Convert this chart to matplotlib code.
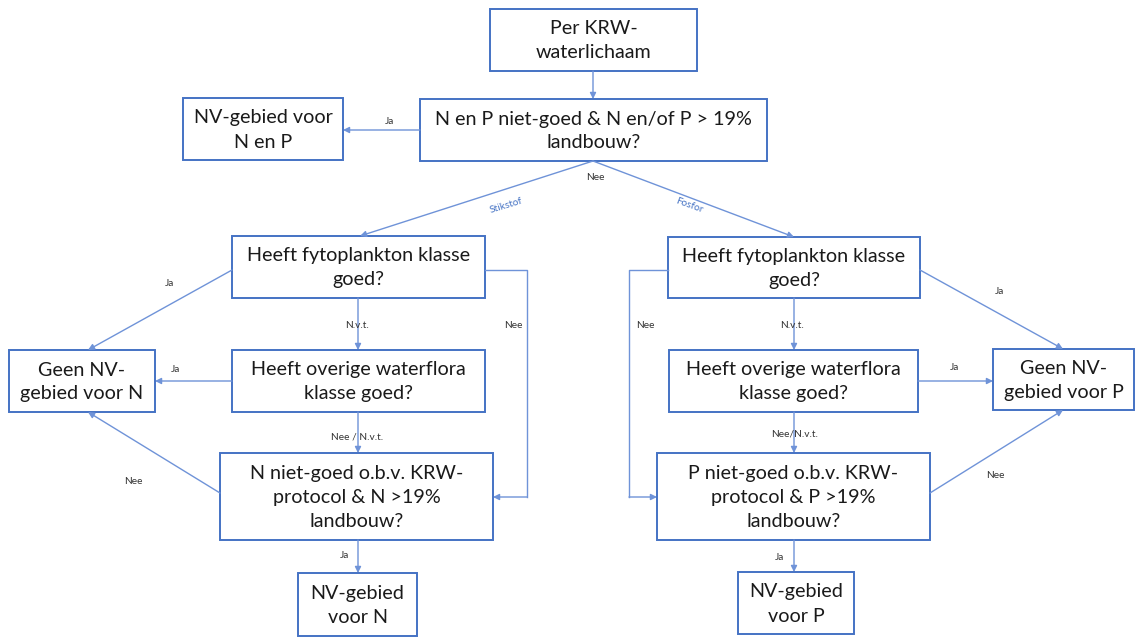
import matplotlib
matplotlib.use('Agg')
import matplotlib.pyplot as plt
from matplotlib.patches import Rectangle

# box texts
box_ids = ['start', 'q_np', 'nv_np', 'fyto_n', 'fyto_p', 'geen_n', 'flora_n',
           'krw_n', 'nv_n', 'geen_p', 'flora_p', 'krw_p', 'nv_p']
box_texts = ['Per KRW-\nwaterlichaam',
             'N en P niet-goed & N en/of P > 19%\nlandbouw?',
             'NV-gebied voor\nN en P',
             'Heeft fytoplankton klasse\ngoed?',
             'Heeft fytoplankton klasse\ngoed?',
             'Geen NV-\ngebied voor N',
             'Heeft overige waterflora\nklasse goed?',
             'N niet-goed o.b.v. KRW-\nprotocol & N >19%\nlandbouw?',
             'NV-gebied\nvoor N',
             'Geen NV-\ngebied voor P',
             'Heeft overige waterflora\nklasse goed?',
             'P niet-goed o.b.v. KRW-\nprotocol & P >19%\nlandbouw?',
             'NV-gebied\nvoor P']

# edge labels
edge_labels = ['Ja', 'Nee', 'Stikstof', 'Fosfor', 'Ja', 'N.v.t.', 'Nee', 'Ja',
               'Nee / N.v.t.', 'Nee', 'Ja', 'Ja', 'N.v.t.', 'Nee', 'Ja',
               'Nee/N.v.t.', 'Nee', 'Ja']

# layout in pixels: x0, y0, x1, y1 (y down)
layout = {
    'start': (490, 9, 697, 71),
    'q_np': (420, 99, 767, 161),
    'nv_np': (183, 98, 343, 160),
    'fyto_n': (232, 236, 485, 298),
    'fyto_p': (668, 237, 920, 298),
    'geen_n': (9, 350, 155, 412),
    'flora_n': (232, 350, 485, 412),
    'krw_n': (220, 453, 493, 540),
    'nv_n': (298, 573, 417, 636),
    'geen_p': (993, 349, 1134, 410),
    'flora_p': (669, 350, 918, 412),
    'krw_p': (657, 453, 930, 540),
    'nv_p': (738, 572, 854, 634),
}

# connectors: polyline points, arrow at the end
paths = [
    [(593, 71), (593, 99)],
    [(420, 130), (343, 130)],
    [(593, 161), (360, 236)],
    [(593, 161), (794, 237)],
    [(232, 270), (88, 350)],
    [(358, 298), (358, 350)],
    [(485, 270), (527, 270), (527, 497), (493, 497)],
    [(232, 381), (155, 381)],
    [(358, 412), (358, 453)],
    [(220, 493), (88, 412)],
    [(358, 540), (358, 573)],
    [(920, 270), (1063, 349)],
    [(794, 298), (794, 350)],
    [(668, 270), (629, 270), (629, 497), (657, 497)],
    [(918, 381), (993, 381)],
    [(794, 412), (794, 453)],
    [(930, 493), (1063, 410)],
    [(794, 540), (794, 572)],
]

# label positions (x, y, rotation, colour)
label_pos = [
    (390, 121, 0, 'k'), (595, 177, 0, 'k'), (506, 206, 17, 'b'), (689, 206, -20, 'b'),
    (170, 283, 0, 'k'), (357, 325, 0, 'k'), (513, 326, 0, 'k'), (176, 370, 0, 'k'),
    (357, 437, 0, 'k'), (133, 481, 0, 'k'), (345, 556, 0, 'k'), (1000, 292, 0, 'k'),
    (792, 326, 0, 'k'), (645, 326, 0, 'k'), (955, 368, 0, 'k'), (795, 434, 0, 'k'),
    (995, 476, 0, 'k'), (780, 557, 0, 'k'),
]

box_color = '#4472C4'
line_color = '#6F93D8'
text_color = '#1a1a1a'

fig = plt.figure(figsize=(11.35, 6.37), dpi=100)
ax = fig.add_axes([0, 0, 1, 1])
ax.set_xlim(0, 1135)
ax.set_ylim(637, 0)
ax.axis('off')

for bid, txt in zip(box_ids, box_texts):
    x0, y0, x1, y1 = layout[bid]
    ax.add_patch(Rectangle((x0, y0), x1 - x0, y1 - y0, fill=False,
                           edgecolor=box_color, linewidth=1.4))
    ax.text((x0 + x1) / 2, (y0 + y1) / 2 + 1, txt, ha='center', va='center',
            fontsize=14.2, color=text_color, family='Lato', linespacing=1.5)

for pts in paths:
    xs = [p[0] for p in pts]
    ys = [p[1] for p in pts]
    ax.plot(xs[:-1], ys[:-1], color=line_color, lw=1.0)
    ax.annotate('', xy=pts[-1], xytext=pts[-2],
                arrowprops=dict(arrowstyle='-|>', color=line_color, lw=1.0,
                                mutation_scale=9, shrinkA=0, shrinkB=0))

for lab, (x, y, rot, c) in zip(edge_labels, label_pos):
    col = '#4472C4' if c == 'b' else '#333333'
    ax.text(x, y, lab, ha='center', va='center', fontsize=7.3, rotation=rot,
            color=col, family='Lato')

fig.savefig('out.png', dpi=100)
